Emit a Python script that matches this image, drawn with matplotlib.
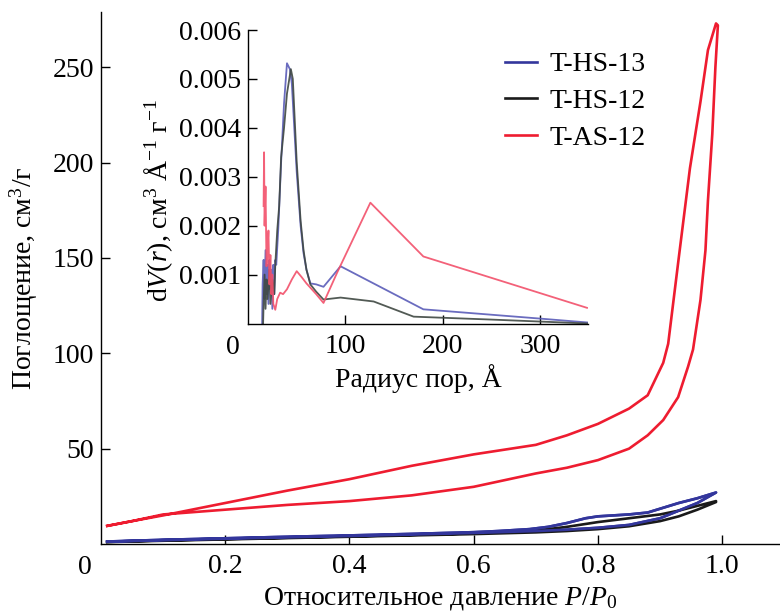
import numpy as np
import matplotlib
matplotlib.use('Agg')
from matplotlib import pyplot as plt

plt.rcParams['font.family'] = 'serif'
plt.rcParams['font.serif'] = ['Liberation Serif', 'DejaVu Serif']
plt.rcParams['mathtext.fontset'] = 'custom'
plt.rcParams['mathtext.rm'] = 'Liberation Serif'
plt.rcParams['mathtext.it'] = 'Liberation Serif:italic'
plt.rcParams['font.size'] = 20

# izoterma T-AS-12 (adsorbcija vverh, desorbcija vniz)
as12_p = [0.01, 0.05, 0.1, 0.2, 0.3, 0.4, 0.5, 0.6, 0.7, 0.75, 0.8, 0.85, 0.88, 0.905, 0.929, 0.945,
          0.953, 0.965, 0.973, 0.977, 0.984, 0.989, 0.993,
          0.99, 0.977, 0.965, 0.948, 0.93, 0.913, 0.905, 0.88, 0.85, 0.8, 0.75, 0.7, 0.6, 0.5, 0.4,
          0.3, 0.2, 0.1, 0.05, 0.01]
as12_v = [9.5, 12, 15.5, 18, 20.5, 22.5, 25.5, 30, 37, 40, 44, 50, 57, 65, 77, 93,
          102, 128, 154, 180, 215, 250, 272,
          273, 259, 232, 197, 150, 105, 95, 78, 71, 63, 57, 52, 47, 41, 34,
          28, 21.5, 15, 12, 9.5]

hs13_p = [0.01, 0.1, 0.2, 0.3, 0.4, 0.5, 0.6, 0.7, 0.75, 0.8, 0.85, 0.9, 0.93, 0.96, 0.99,
          0.96, 0.93, 0.9, 0.88, 0.85, 0.8, 0.78, 0.75, 0.72, 0.69, 0.64, 0.6, 0.5, 0.4, 0.3, 0.2,
          0.1, 0.01]
hs13_v = [1.2, 2, 2.8, 3.5, 4.2, 5, 5.8, 6.8, 7.5, 8.5, 10, 13.5, 17.5, 21.5, 27,
          24, 21.5, 18.5, 16.5, 15.5, 14.5, 13.5, 11, 9, 7.8, 6.8, 6.2, 5.3, 4.5, 3.8, 3,
          2.2, 1.3]

hs12_p = [0.01, 0.1, 0.2, 0.3, 0.4, 0.5, 0.6, 0.7, 0.75, 0.8, 0.85, 0.9, 0.93, 0.96, 0.99,
          0.99, 0.96, 0.93, 0.9, 0.85, 0.8, 0.75, 0.7, 0.6, 0.5, 0.4, 0.3, 0.2, 0.1, 0.01]
hs12_v = [1.0, 1.7, 2.4, 3.1, 3.8, 4.5, 5.2, 6.1, 6.8, 7.8, 9.3, 12, 14.5, 18, 22,
          22.5, 20, 17.5, 15.5, 13.5, 11.5, 9, 7, 5.6, 4.8, 4, 3.3, 2.6, 1.9, 1.1]

# raspredelenie por po razmeram (vrezka)
psd13_r = [14.5, 15, 16, 17, 18, 19, 20, 21, 22, 23, 24, 25, 26, 27, 28, 29, 31, 34, 37, 40, 43,
           45, 50, 54, 57, 60, 64, 70, 77.5, 95, 180, 300, 349]
psd13_v = [0, 0.0008, 0.0013, 0.0005, 0.0015, 0.0006, 0.0012, 0.0004, 0.0013, 0.0007, 0.0011,
           0.0003, 0.0012, 0.0006, 0.0013, 0.0012, 0.0019, 0.0033, 0.0045, 0.00532, 0.0052,
           0.0049, 0.0031, 0.0020, 0.00144, 0.0011, 0.00082, 0.0008, 0.00075, 0.00117, 0.00029,
           0.0001, 0.00002]

psd12_r = [15.5, 16, 17, 18, 19, 20, 22, 23, 25, 27, 28, 30, 32, 34, 37, 40, 44, 46, 50, 54, 57,
           60, 64, 70, 77.5, 95, 129, 170, 250, 349]
psd12_v = [0, 0.0004, 0.0010, 0.0003, 0.0009, 0.0005, 0.0011, 0.0004, 0.0009, 0.0006, 0.0012,
           0.0019, 0.0024, 0.0034, 0.0040, 0.0047, 0.0052, 0.0050, 0.0033, 0.0021, 0.0015,
           0.0011, 0.0008, 0.00065, 0.00049, 0.00053, 0.00045, 0.00014, 0.00008, 0.0]

psdas_r = [16, 16.5, 17, 18, 19, 20, 21, 22, 23, 24, 25, 26, 28, 30, 33, 36, 40, 45, 50, 55, 60,
           70, 77.5, 91.5, 125.6, 180, 348]
psdas_v = [0.0024, 0.0035, 0.0020, 0.0028, 0.00117, 0.0015, 0.0019, 0.0008, 0.0014, 0.0006,
           0.0010, 0.0004, 0.00028, 0.0005, 0.00063, 0.0006, 0.0007, 0.0009, 0.00107, 0.00095,
           0.00082, 0.0006, 0.00042, 0.00104, 0.00247, 0.00137, 0.00032]

labels = ['T-HS-13', 'T-HS-12', 'T-AS-12']
colors = ['#33369c', '#1a1a1a', '#ee1c30']
colors_in = ['#5a5cb8', '#3f4842', '#f2506a']

fig = plt.figure(figsize=(7.8, 6.12), dpi=100)
ax = fig.add_axes([101/780, 68/612, 679/780, 532/612])

l1, = ax.plot(hs13_p, hs13_v, color=colors[0], lw=1.9)
l2, = ax.plot(hs12_p, hs12_v, color=colors[1], lw=1.9)
l3, = ax.plot(as12_p, as12_v, color=colors[2], lw=1.9)
ax.plot(hs13_p, hs13_v, color=colors[0], lw=1.9)

ax.set_xlim(0, 1.093)
ax.set_ylim(0, 279)
ax.set_xticks([0.2, 0.4, 0.6, 0.8, 1.0])
ax.set_xticklabels(['0.2', '0.4', '0.6', '0.8', '1.0'])
ax.set_yticks([50, 100, 150, 200, 250])
for s in ['top', 'right']:
    ax.spines[s].set_visible(False)
for s in ['left', 'bottom']:
    ax.spines[s].set_linewidth(1.0)
ax.tick_params(direction='in', length=6.5, width=1.0)
ax.tick_params(axis='x', pad=7.5)
ax.tick_params(axis='y', pad=5)
ax.annotate('0', xy=(0, 0), xycoords='axes fraction', xytext=(-16, -23),
            textcoords='offset pixels', ha='center', va='center')
ax.set_xlabel('Относительное давление $P/P_0$', labelpad=4)
ax.set_ylabel('Поглощение, см$^3$/г')
ax.yaxis.set_label_coords(-0.09, 0.5)

ax.legend([l1, l2, l3], labels, loc='upper left', frameon=False,
          bbox_to_anchor=(505/780, 1 - 52/612), bbox_transform=fig.transFigure,
          borderpad=0, borderaxespad=0, handlelength=1.15, handletextpad=0.45,
          labelspacing=0.4)

# vrezka
axi = fig.add_axes([248/780, (612-323.5)/612, 340/780, 293.5/612])
axi.plot(psd13_r, psd13_v, color=colors_in[0], lw=1.3, alpha=0.9)
axi.plot(psd12_r, psd12_v, color=colors_in[1], lw=1.3, alpha=0.9)
axi.plot(psdas_r, psdas_v, color=colors_in[2], lw=1.3, alpha=0.9)
axi.set_xlim(0, 349)
axi.set_ylim(0, 0.006)
axi.set_xticks([100, 200, 300])
axi.set_yticks([0.001, 0.002, 0.003, 0.004, 0.005, 0.006])
axi.set_yticklabels(['0.001', '0.002', '0.003', '0.004', '0.005', '0.006'])
for s in ['top', 'right']:
    axi.spines[s].set_visible(False)
for s in ['left', 'bottom']:
    axi.spines[s].set_linewidth(1.0)
axi.tick_params(direction='in', length=6.5, width=1.0)
axi.tick_params(axis='x', pad=7.5)
axi.tick_params(axis='y', pad=5)
axi.patch.set_alpha(0)
axi.annotate('0', xy=(0, 0), xycoords='axes fraction', xytext=(-15.5, -23.5),
             textcoords='offset pixels', ha='center', va='center')
axi.set_xlabel('Радиус пор, Å', labelpad=4)
axi.set_ylabel('d$V$($r$), см$^3$ Å$^{-1}$ г$^{-1}$')
axi.yaxis.set_label_coords(-0.215, 0.42)

fig.savefig('out.png', dpi=100)
